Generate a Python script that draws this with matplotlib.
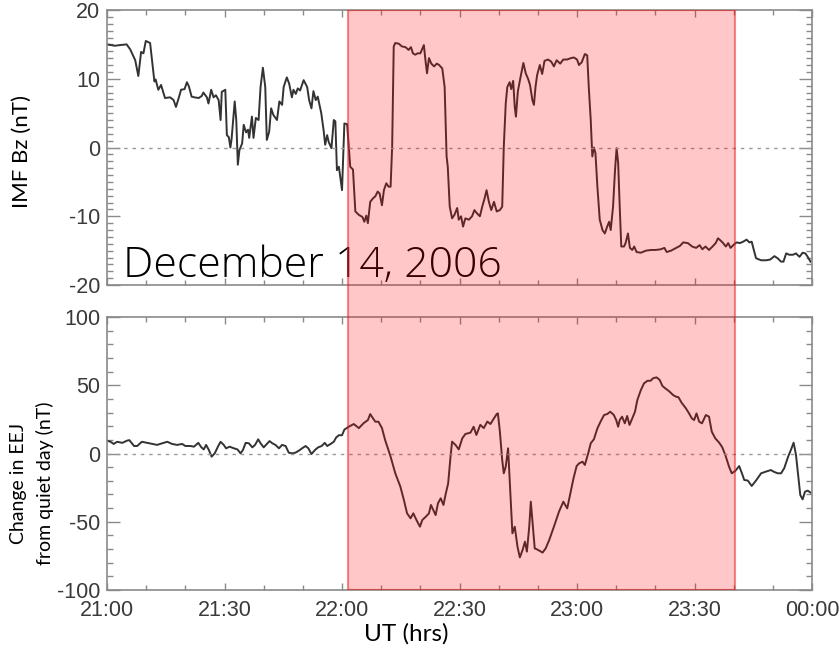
import matplotlib
matplotlib.use('Agg')
import matplotlib.pyplot as plt
from matplotlib.ticker import MultipleLocator, FixedLocator

plt.rcParams['axes.unicode_minus'] = False

# Time in minutes after 21:00 UT, 14 Dec 2006
bz_t = [0, 2.0, 3.3, 5.0, 5.9, 7.2, 8.0, 8.7, 9.3, 9.9, 11.0, 12.1, 12.4, 13.1, 13.8, 14.8,
        16.1, 17.0, 17.6, 18.2, 18.9, 19.8, 20.4, 20.9, 21.6, 22.3, 23.4, 24.2, 24.6, 25.5,
        25.9, 26.6, 27.2, 27.8, 28.5, 29.0, 29.3, 30.2, 30.6, 31.1, 31.5, 31.8, 32.6, 33.0,
        33.4, 33.8, 34.5, 34.9, 35.5, 36.0, 36.3, 37.0, 37.4, 38.0, 38.7, 39.2, 39.8, 40.4,
        40.8, 41.4, 41.9, 42.5, 43.4, 44.0, 44.7, 45.1, 45.9, 46.5, 47.2, 47.6, 48.2, 48.7,
        49.3, 50.2, 51.1, 51.6, 52.2, 52.7, 53.3, 53.8, 54.7, 55.3, 55.7, 56.2, 56.6, 57.3,
        57.9, 58.3, 58.7, 59.2, 60.0, 60.6, 61.3, 62.1, 62.8, 63.4, 64.3, 65.2, 65.7, 66.2,
        66.6, 67.2, 67.9, 68.5, 69.1, 69.6, 70.2, 70.7, 71.3, 71.9, 72.4, 72.8, 73.2, 73.6,
        74.5, 75.3, 76.2, 77.0, 77.6, 78.1, 78.7, 79.3, 80.0, 80.9, 81.3, 81.7, 82.2, 82.8,
        83.5, 84.2, 84.8, 85.6, 86.2, 86.7, 87.0, 87.5, 88.1, 88.7, 89.4, 89.8, 90.4, 90.9,
        91.5, 92.4, 93.2, 93.8, 94.5, 95.2, 95.8, 96.4, 96.9, 97.5, 98.1, 98.8, 99.5, 100.3,
        100.9, 101.3, 101.8, 102.2, 102.8, 103.2, 103.7, 104.1, 104.4, 104.9, 105.6, 106.3,
        106.9, 107.5, 108.0, 108.6, 109.0, 109.4, 109.8, 110.5, 111.1, 111.7, 112.6, 113.4,
        114.1, 114.8, 115.7, 116.5, 117.5, 118.4, 119.2, 120.0, 120.5, 121.2, 122.0, 122.6,
        123.0, 123.5, 123.9, 124.3, 124.7, 125.2, 125.8, 126.5, 127.1, 127.7, 128.2, 128.6,
        129.2, 129.7, 130.1, 130.5, 130.9, 131.3, 132.0, 132.4, 133.0, 133.5, 134.1, 134.6,
        135.2, 136.3, 137.6, 138.9, 140.1, 141.4, 142.3, 142.9, 144.0, 145.3, 146.3, 147.1,
        148.3, 149.4, 150.4, 151.3, 152.0, 152.8, 153.7, 154.6, 155.4, 156.0, 156.6, 157.3,
        158.0, 158.6, 159.2, 159.9, 160.7, 161.6, 162.4, 163.3, 164.0, 164.6, 165.0, 165.7,
        167.0, 168.3, 169.3, 170.4, 171.2, 172.1, 172.7, 173.4, 174.2, 175.1, 175.9, 176.8,
        177.6, 178.3, 178.9, 179.6]
bz_v = [15.0, 14.8, 14.9, 15.0, 14.3, 12.7, 10.4, 13.9, 13.7, 15.5, 15.2, 9.6, 9.9, 8.4, 9.1, 7.2,
        7.3, 6.9, 5.9, 7.0, 8.4, 8.5, 9.5, 8.9, 7.4, 7.3, 7.2, 7.5, 8.0, 7.3,
        6.4, 8.4, 7.3, 7.6, 6.9, 4.0, 8.1, 8.4, 1.8, 1.5, 0.0, 1.2, 6.7, 4.0,
        -2.5, -0.4, 0.6, 3.3, 2.2, 2.6, 1.4, 4.5, 1.4, 4.3, 4.0, 8.8, 11.6, 8.8,
        1.1, 2.3, 5.7, 4.7, 4.0, 6.7, 6.2, 8.8, 10.2, 9.3, 7.3, 8.4, 7.8, 8.6,
        8.3, 9.8, 8.8, 6.9, 5.7, 8.2, 6.9, 7.4, 5.0, 2.5, 0.4, 1.8, 0.8, -0.1,
        4.0, 3.8, -3.3, -2.8, -6.2, 3.5, 3.4, -2.8, -3.2, -9.3, -9.8, -10.1, -10.8, -9.9,
        -11.0, -7.9, -7.4, -7.1, -6.4, -6.7, -8.4, -6.2, -5.2, -5.7, -5.7, 0.1, 14.7, 15.2,
        15.1, 14.7, 14.6, 14.2, 14.6, 13.7, 13.5, 13.7, 13.7, 14.9, 12.7, 10.8, 13.0, 12.2,
        11.8, 12.2, 12.0, 11.5, 8.8, -1.3, -2.8, -8.6, -10.3, -9.8, -8.8, -10.5, -10.0, -11.5,
        -10.3, -10.5, -10.0, -9.1, -9.6, -10.0, -8.6, -7.4, -6.2, -7.9, -9.1, -7.9, -9.3, -9.1,
        -8.6, 0.1, 6.4, 8.8, 9.5, 8.5, 9.7, 5.9, 4.5, 8.2, 10.3, 12.3,
        10.8, 10.0, 9.1, 6.9, 6.2, 8.8, 10.5, 12.0, 10.7, 12.6, 12.8, 12.5,
        11.8, 12.7, 12.2, 12.8, 12.8, 13.0, 13.1, 12.8, 12.0, 12.4, 13.6, 13.4,
        8.8, 4.0, -1.3, 0.0, -0.8, -5.7, -10.5, -12.0, -12.5, -11.5, -10.8, -12.0,
        -8.6, -3.3, -0.1, -2.2, -8.6, -14.4, -14.4, -13.9, -12.5, -14.6, -14.9, -14.4,
        -15.2, -15.3, -15.0, -14.9, -14.9, -14.8, -14.6, -15.2, -15.0, -14.6, -14.3, -13.8,
        -13.9, -14.4, -14.6, -14.2, -14.8, -14.4, -14.9, -14.4, -13.9, -13.2, -13.5, -13.9,
        -14.4, -13.9, -14.6, -14.2, -13.8, -13.9, -13.7, -13.4, -13.8, -13.7, -14.6, -16.1,
        -16.4, -16.4, -16.3, -15.8, -16.1, -16.6, -16.6, -15.4, -15.6, -15.6, -15.4, -15.9,
        -15.3, -15.4, -15.9, -16.6]

eej_t = [0, 0.9, 1.7, 2.6, 3.9, 5.1, 5.7, 6.9, 7.7, 8.9, 10.3, 11.6, 12.8, 14.1, 15.4, 16.6,
         17.9, 19.2, 20.0, 21.3, 22.2, 23.3, 24.1, 24.7, 25.3, 26.0, 26.7, 27.5, 28.4, 29.0,
         29.8, 30.4, 31.3, 32.4, 33.3, 34.1, 34.7, 35.4, 36.2, 37.1, 37.8, 38.6, 39.2, 40.0,
         40.6, 41.5, 42.2, 43.0, 43.9, 44.7, 45.6, 46.4, 47.3, 48.1, 49.0, 49.8, 50.7, 51.4,
         52.2, 53.1, 53.9, 54.8, 55.6, 56.2, 57.1, 57.9, 58.5, 59.2, 60.0, 60.6, 61.7, 63.0,
         64.3, 65.5, 66.6, 67.2, 67.9, 68.5, 69.3, 70.2, 71.0, 72.4, 73.6, 74.9, 75.8, 76.6,
         77.5, 78.2, 79.0, 79.9, 80.5, 81.4, 82.2, 82.7, 83.1, 83.9, 84.5, 85.2, 85.9, 86.5,
         87.1, 87.7, 88.1, 89.0, 89.8, 90.7, 91.5, 92.8, 93.6, 94.3, 95.3, 96.2, 97.1, 97.9,
         98.8, 99.5, 99.8, 100.3, 100.9, 101.3, 101.8, 102.4, 102.9, 103.5, 104.1, 104.8,
         105.4, 106.1, 106.7, 107.2, 107.8, 108.2, 108.6, 109.2, 110.1, 111.2, 112.0, 112.9,
         114.1, 115.4, 116.5, 117.5, 118.4, 119.1, 119.9, 120.5, 121.4, 122.0, 122.9, 123.5,
         124.3, 125.2, 126.0, 126.9, 127.7, 128.5, 129.4, 130.0, 130.5, 130.9, 131.5, 132.2,
         132.8, 133.4, 134.1, 134.8, 135.4, 136.3, 137.1, 138.0, 138.8, 139.4, 140.3, 141.1,
         141.8, 142.5, 143.3, 143.9, 144.5, 145.2, 145.9, 146.7, 147.8, 148.6, 149.3, 149.9,
         150.5, 151.2, 151.9, 152.9, 153.7, 154.4, 155.3, 156.3, 157.1, 158.0, 158.8, 159.5,
         160.4, 161.4, 162.1, 162.7, 163.6, 164.6, 165.7, 167.0, 168.2, 169.5, 170.2, 171.2,
         172.1, 172.9, 173.9, 174.6, 175.3, 175.9, 176.4, 177.0, 177.6, 178.2, 178.9, 179.6]
eej_v = [9.4, 8.6, 7.0, 8.6, 7.8, 9.4, 9.8, 5.5, 5.5, 8.6, 7.8, 7.0, 6.3, 7.5, 8.6, 7.0,
         6.3, 7.0, 5.5, 5.5, 5.0, 7.8, 4.5, 3.0, 6.3, 2.6, -2.3, 0.1, 5.5, 8.6,
         6.3, 3.8, 5.0, 3.8, 3.0, 0.1, 2.6, 7.8, 7.5, 4.5, 6.3, 10.4, 7.5, 4.5,
         6.3, 9.1, 7.5, 6.3, 3.8, 6.3, 5.5, 0.6, 0.1, 0.6, 2.1, 3.8, 5.5, 3.8,
         -0.4, 2.6, 4.5, 5.5, 7.8, 5.5, 7.0, 8.6, 11.7, 13.4, 13.4, 17.5, 19.6, 21.6,
         18.6, 22.2, 24.5, 28.9, 25.8, 23.3, 23.3, 18.6, 9.9, -2.3, -14.5, -24.3, -34.1, -43.8,
         -47.5, -43.8, -48.7, -53.6, -48.7, -46.3, -43.8, -37.7, -40.2, -45.1, -36.5, -32.8, -37.7, -29.2,
         -21.9, -2.3, 8.7, 6.2, 3.0, 11.1, 14.3, 15.3, 19.6, 13.6, 21.0, 18.6, 23.4, 21.6,
         25.8, 28.9, 29.4, 16.1, -4.8, -14.5, -9.6, 3.8, -24.3, -58.5, -53.6, -68.3,
         -76.1, -70.7, -64.6, -71.9, -53.6, -35.3, -48.7, -69.5, -70.7, -72.6, -69.5, -63.4,
         -53.6, -42.6, -35.3, -40.2, -28.0, -18.2, -9.2, -7.3, -6.0, -8.4, 0.6, 7.5,
         10.4, 18.4, 23.3, 28.2, 28.9, 30.6, 28.2, 24.5, 19.6, 24.5, 27.0, 22.1,
         27.5, 20.9, 25.8, 30.6, 39.2, 46.5, 51.4, 53.3, 53.3, 55.1, 55.8, 53.9,
         49.5, 47.8, 46.1, 44.6, 42.9, 41.7, 41.2, 37.2, 33.1, 29.4, 25.8, 24.5,
         29.4, 23.3, 22.1, 28.2, 27.0, 16.0, 11.1, 7.9, 4.5, -2.3, -9.6, -14.5,
         -12.8, -9.2, -14.5, -19.4, -19.8, -23.8, -19.8, -14.5, -13.3, -12.1, -13.3, -14.5,
         -14.5, -10.8, -2.3, 2.6, 7.9, -0.9, -14.5, -30.4, -33.6, -28.0, -27.2, -28.6]

# shaded interval (minutes after 21:00)
shade_start = 61.6
shade_end = 160.3

tick_pos = [0, 30, 60, 90, 120, 150, 180]
tick_lab = ['21:00', '21:30', '22:00', '22:30', '23:00', '23:30', '00:00']

title_font = 'Open Sans'
label_font = 'Lato'
tick_font = 'Liberation Sans'
spine_col = '#8a8a8a'
line_col = '#333333'

fig = plt.figure(figsize=(8.4, 6.5), dpi=100)
ax1 = fig.add_axes([0.1274, 0.5615, 0.8393, 0.4231])
ax2 = fig.add_axes([0.1274, 0.0923, 0.8393, 0.4200])

def style(ax, ymaj, ymin):
    ax.set_xlim(0, 180)
    ax.xaxis.set_major_locator(FixedLocator(tick_pos))
    ax.xaxis.set_minor_locator(MultipleLocator(10))
    ax.yaxis.set_major_locator(MultipleLocator(ymaj))
    ax.yaxis.set_minor_locator(MultipleLocator(ymin))
    ax.tick_params(which='both', direction='in', top=True, right=True, color=spine_col,
                   width=1.0, labelsize=15.5, labelcolor='#3a3a3a')
    ax.tick_params(axis='y', which='major', length=9.5, pad=5)
    ax.tick_params(axis='y', which='minor', length=4.5)
    ax.tick_params(axis='x', which='major', length=5, pad=7)
    ax.tick_params(axis='x', which='minor', length=3.5)
    for s in ax.spines.values():
        s.set_color(spine_col)
        s.set_linewidth(1.2)

# top panel: IMF Bz
ax1.plot(bz_t, bz_v, color=line_col, lw=1.4)
ax1.axhline(0, color='#9a9a9a', lw=1.0, ls=(0, (2.5, 3.5)))
ax1.set_ylim(-20, 20)
style(ax1, 10, 1)
ax1.set_xticklabels([])
for lab in ax1.get_yticklabels():
    lab.set_family(tick_font)
ax1.set_ylabel('IMF Bz (nT)', fontsize=16, family=label_font, va='center')
ax1.yaxis.set_label_coords(-0.1206, 0.484)
ax1.text(4.0, -18.9, 'December 14, 2006', fontsize=30.8, family=title_font,
         fontweight='light', color='black', ha='left', va='baseline')

# bottom panel: EEJ change
ax2.plot(eej_t, eej_v, color=line_col, lw=1.4)
ax2.axhline(0, color='#9a9a9a', lw=1.0, ls=(0, (2.5, 3.5)))
ax2.set_ylim(-100, 100)
style(ax2, 50, 10)
ax2.set_xticklabels(tick_lab)
for lab in ax2.get_xticklabels() + ax2.get_yticklabels():
    lab.set_family(tick_font)
ax2.set_ylabel('Change in EEJ\nfrom quiet day (nT)', fontsize=14, family=label_font,
               va='center', linespacing=1.6)
ax2.yaxis.set_label_coords(-0.107, 0.39)

fig.text(406 / 840, 1 - 634 / 650, 'UT (hrs)', fontsize=17.5, family=label_font,
         ha='center', va='center')

# red shaded window spanning both panels
ov = fig.add_axes([0.1274, 0.0923, 0.8393, 0.9846 - 0.0923])
ov.set_xlim(0, 180)
ov.set_ylim(0, 1)
ov.set_axis_off()
ov.axvspan(shade_start, shade_end, facecolor=(1, 0, 0, 0.22),
           edgecolor=(0.9, 0.1, 0.1, 0.5), lw=1.5)

fig.savefig('out.png', dpi=100)
